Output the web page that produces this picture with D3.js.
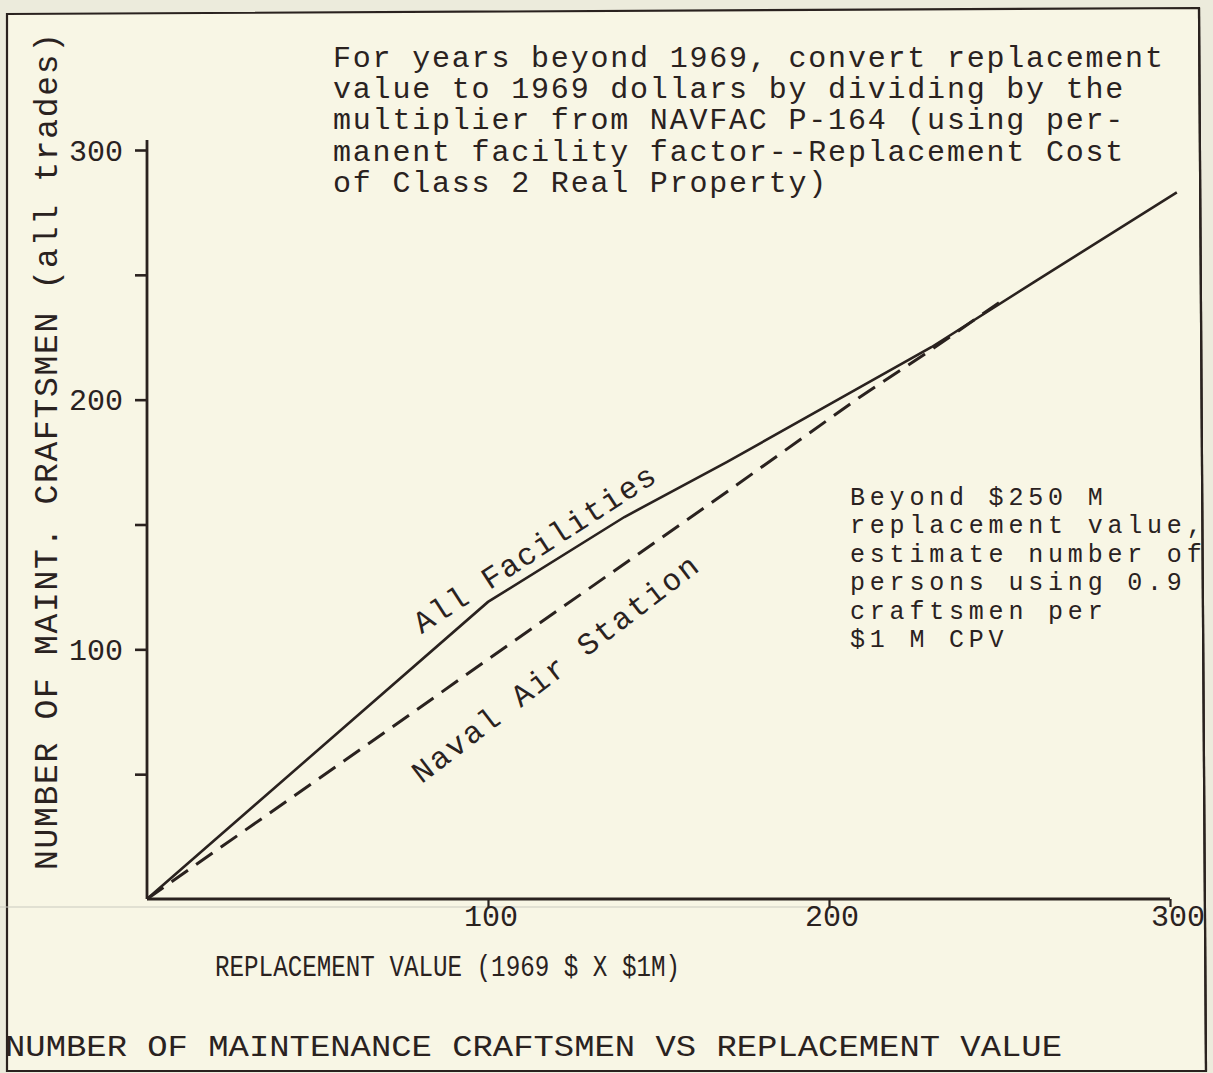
<!DOCTYPE html>
<html>
<head>
<meta charset="utf-8">
<script src="https://cdn.jsdelivr.net/npm/d3@7"></script>
<style>
  html, body { margin: 0; padding: 0; background: #ecebdc; }
  svg { display: block; }
  text { font-family: "Liberation Mono", "Courier New", monospace; fill: #2a221f; }
</style>
</head>
<body>
<svg id="chart" width="1213" height="1073"></svg>
<script>
// ---- data ----
const allFacX = [0, 100, 140, 170, 200, 230, 260, 302];
const allFacY = [0, 119, 153, 175, 198, 221, 247, 283];
const nasX = [0, 70, 100, 170, 209, 230, 250];
const nasY = [0, 67, 96, 163, 201, 220, 239];
const xTickValues = [100, 200, 300];
const yTickValues = [50, 100, 150, 200, 250, 300];
const yTickLabels = [100, 200, 300];
const noteTop = [
  "For years beyond 1969, convert replacement",
  "value to 1969 dollars by dividing by the",
  "multiplier from NAVFAC P-164 (using per-",
  "manent facility factor--Replacement Cost",
  "of Class 2 Real Property)"
];
const noteRight = [
  "Beyond $250 M",
  "replacement value,",
  "estimate number of",
  "persons using 0.9",
  "craftsmen per",
  "$1 M CPV"
];
const yTitle = "NUMBER OF MAINT. CRAFTSMEN (all trades)";
const xTitle = "REPLACEMENT VALUE (1969 $ X $1M)";
const figTitle = "NUMBER OF MAINTENANCE CRAFTSMEN VS REPLACEMENT VALUE";
const seriesNames = ["All Facilities", "Naval Air Station"];

const ink = "#2a221f";
const svg = d3.select("#chart");

// paper inside the frame
svg.append("path")
  .attr("d", "M7,14 L1199,8 L1206,1071 L7,1071 Z")
  .attr("fill", "#f8f6e5")
  .attr("stroke", ink).attr("stroke-width", 2.2);

// faint scan line
svg.append("line").attr("x1", 0).attr("x2", 810).attr("y1", 907).attr("y2", 907)
  .attr("stroke", "#c9c9c0").attr("stroke-width", 1.2);

const x = d3.scaleLinear().domain([0, 300]).range([147, 1170]);
const y = d3.scaleLinear().domain([0, 300]).range([899, 150]);

// y axis
const yAxis = d3.axisLeft(y).tickValues(yTickValues).tickSize(12).tickFormat("");
const gy = svg.append("g").attr("transform", `translate(${x(0)},0)`).call(yAxis);
gy.select(".domain").remove();
gy.selectAll(".tick line").attr("stroke", ink).attr("stroke-width", 2.6);
svg.append("line").attr("x1", x(0)).attr("x2", x(0)).attr("y1", y(304)).attr("y2", y(0))
  .attr("stroke", ink).attr("stroke-width", 2.8);
svg.append("g").selectAll("text").data(yTickLabels).join("text")
  .attr("x", x(0) - 24).attr("y", d => y(d)).attr("dy", "0.36em")
  .attr("text-anchor", "end").attr("font-size", 30).text(d => d);

// x axis
const xAxis = d3.axisBottom(x).tickValues(xTickValues).tickSize(8).tickFormat("");
const gx = svg.append("g").attr("transform", `translate(0,${y(0)})`).call(xAxis);
gx.select(".domain").remove();
gx.selectAll(".tick line").attr("stroke", ink).attr("stroke-width", 2.2);
svg.append("line").attr("x1", x(0)).attr("x2", x(300)).attr("y1", y(0)).attr("y2", y(0))
  .attr("stroke", ink).attr("stroke-width", 2.8);
svg.append("g").selectAll("text").data(xTickValues).join("text")
  .attr("x", d => x(d) + (d === 300 ? 8 : 3)).attr("y", y(0) + 27)
  .attr("text-anchor", "middle").attr("font-size", 30).text(d => d);

// lines
const line = d3.line().x(d => x(d[0])).y(d => y(d[1]));
const allFac = allFacX.map((v, i) => [v, allFacY[i]]);
const nas = nasX.map((v, i) => [v, nasY[i]]);
svg.append("path").datum(nas).attr("d", line)
  .attr("fill", "none").attr("stroke", ink).attr("stroke-width", 3)
  .attr("stroke-dasharray", "20,10");
svg.append("path").datum(allFac).attr("d", line)
  .attr("fill", "none").attr("stroke", ink).attr("stroke-width", 2.6);

// series labels along the lines
svg.append("text").attr("font-size", 31)
  .attr("transform", `translate(${x(80.5)},${y(106)}) rotate(-33)`)
  .attr("textLength", 282).attr("lengthAdjust", "spacing")
  .text(seriesNames[0]);
svg.append("text").attr("font-size", 31)
  .attr("transform", `translate(${x(80.5)},${y(46)}) rotate(-37.5)`)
  .attr("textLength", 352).attr("lengthAdjust", "spacing")
  .text(seriesNames[1]);

// notes
svg.append("g").selectAll("text").data(noteTop).join("text")
  .attr("x", 333).attr("y", (d, i) => 67 + i * 31.2)
  .attr("font-size", 30).attr("letter-spacing", 1.8).text(d => d);
svg.append("g").selectAll("text").data(noteRight).join("text")
  .attr("x", 850).attr("y", (d, i) => 505 + i * 28.4)
  .attr("font-size", 25).attr("letter-spacing", 4.8).text(d => d);

// axis titles
svg.append("text").attr("font-size", 33)
  .attr("transform", "translate(57,870) rotate(-90)")
  .attr("textLength", 837).attr("lengthAdjust", "spacing")
  .text(yTitle);
svg.append("text").attr("font-size", 30)
  .attr("x", 215).attr("y", 976)
  .attr("textLength", 465).attr("lengthAdjust", "spacingAndGlyphs")
  .text(xTitle);
svg.append("text").attr("font-size", 30)
  .attr("x", 5).attr("y", 1056)
  .attr("textLength", 1057).attr("lengthAdjust", "spacingAndGlyphs")
  .text(figTitle);

// redraw right frame edge over overflowing text
svg.append("line").attr("x1", 1199).attr("y1", 8).attr("x2", 1206).attr("y2", 1071)
  .attr("stroke", ink).attr("stroke-width", 2.2);
</script>
</body>
</html>
